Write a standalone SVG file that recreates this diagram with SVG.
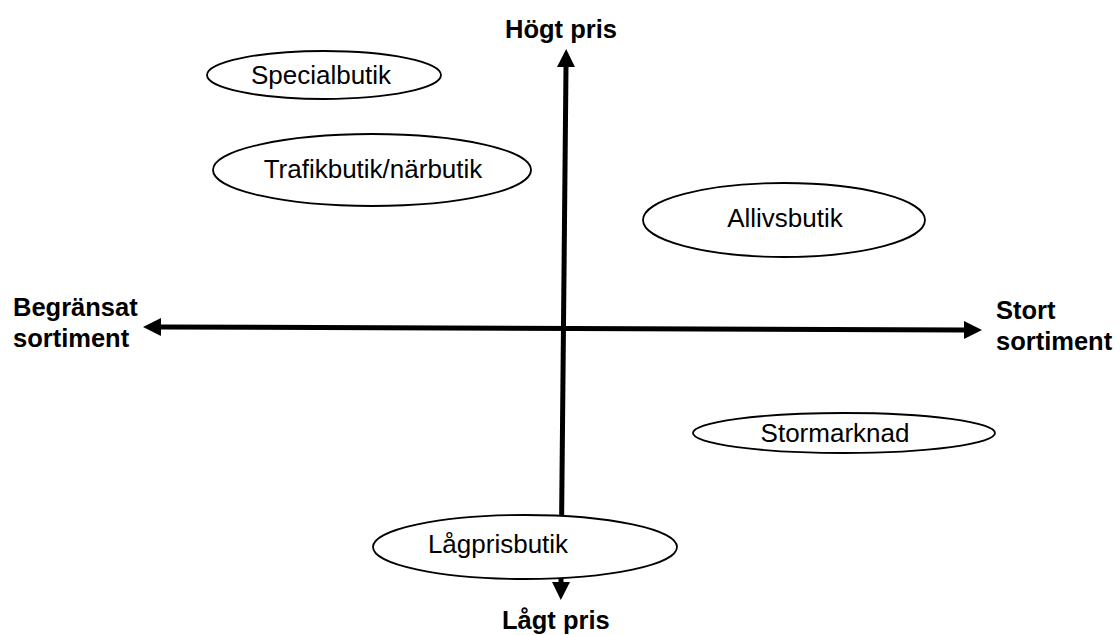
<svg xmlns="http://www.w3.org/2000/svg" width="1120" height="635" viewBox="0 0 1120 635">
  <style>
    .axis { stroke: #000; stroke-width: 5; fill: none; }
    .node ellipse { fill: #fff; stroke: #000; stroke-width: 1.8; }
    .lbl { font-family: "Liberation Sans", Arial, sans-serif; font-size: 26px; fill: #000; }
    .axlbl { font-family: "Liberation Sans", Arial, sans-serif; font-size: 25.5px; font-weight: bold; fill: #000; }
  </style>
  <defs>
    <marker id="ah" markerUnits="userSpaceOnUse" markerWidth="18" markerHeight="18" viewBox="0 0 18 18" refX="0" refY="9" orient="auto-start-reverse">
      <path d="M0,0 L18,9 L0,18 z" fill="#000"/>
    </marker>
  </defs>
  <rect width="1120" height="635" fill="#fff"/>
  <g id="connectors">
    <line class="axis" x1="566" y1="67" x2="561" y2="582" marker-start="url(#ah)" marker-end="url(#ah)"/>
    <line class="axis" x1="161" y1="327" x2="964" y2="330" marker-start="url(#ah)" marker-end="url(#ah)"/>
  </g>
  <g id="axis-labels">
    <text class="axlbl" x="505" y="38">Högt pris</text>
    <text class="axlbl" x="502" y="629">Lågt pris</text>
    <text class="axlbl" x="13" y="316">Begränsat</text>
    <text class="axlbl" x="13" y="347">sortiment</text>
    <text class="axlbl" x="996" y="319">Stort</text>
    <text class="axlbl" x="996" y="350">sortiment</text>
  </g>
  <g id="specialbutik" class="node">
    <ellipse cx="324" cy="75" rx="117" ry="24"/>
    <text class="lbl" x="321" y="84" text-anchor="middle">Specialbutik</text>
  </g>
  <g id="trafikbutik" class="node">
    <ellipse cx="372" cy="170" rx="159" ry="36"/>
    <text class="lbl" x="373" y="178" text-anchor="middle">Trafikbutik/närbutik</text>
  </g>
  <g id="allivsbutik" class="node">
    <ellipse cx="784" cy="220" rx="141" ry="37"/>
    <text class="lbl" x="785" y="227" text-anchor="middle">Allivsbutik</text>
  </g>
  <g id="stormarknad" class="node">
    <ellipse cx="844" cy="433" rx="151" ry="20"/>
    <text class="lbl" x="835" y="442" text-anchor="middle">Stormarknad</text>
  </g>
  <g id="lagprisbutik" class="node">
    <ellipse cx="525" cy="547" rx="152" ry="32"/>
    <text class="lbl" x="498" y="553" text-anchor="middle">Lågprisbutik</text>
  </g>
</svg>
